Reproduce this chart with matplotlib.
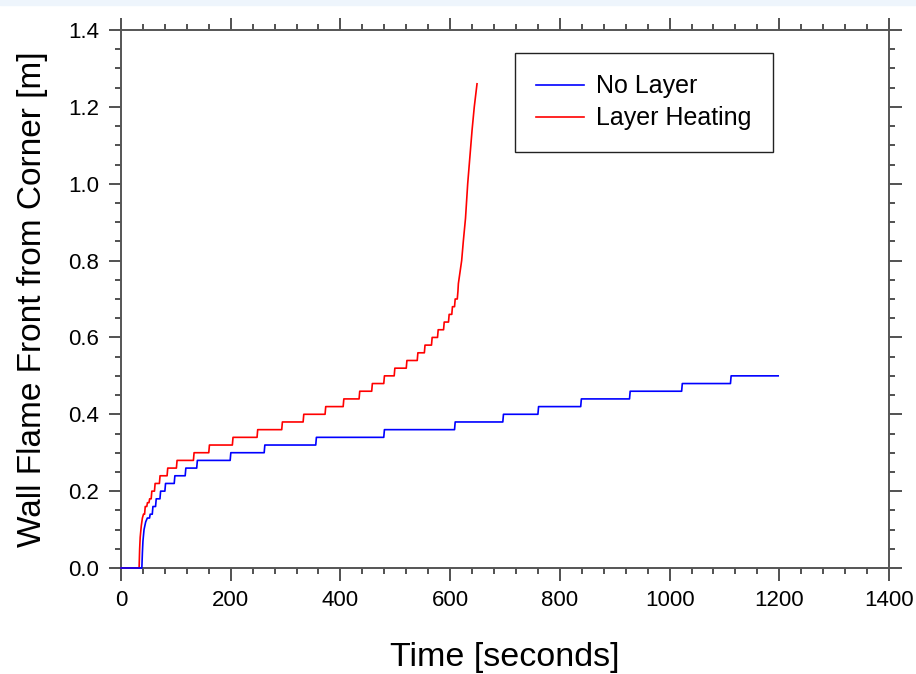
import matplotlib.pyplot as plt
from matplotlib.patches import Rectangle
from matplotlib.ticker import MultipleLocator

plt.rcParams['font.family'] = ['Liberation Sans', 'DejaVu Sans']

# No layer: ignition curve, then flame front steps (time [s], level [m])
head_no_t = [0, 38, 39, 40, 42, 45, 48]
head_no_y = [0.0, 0.0, 0.04, 0.07, 0.10, 0.12, 0.13]
step_no_t = [52, 57, 63, 71, 80, 97, 117, 138, 199, 261, 355, 479, 608,
             696, 760, 838, 927, 1022, 1111]
step_no_y = [0.14, 0.16, 0.18, 0.20, 0.22, 0.24, 0.26, 0.28, 0.30, 0.32,
             0.34, 0.36, 0.38, 0.40, 0.42, 0.44, 0.46, 0.48, 0.50]
end_no_t = 1198

# Layer heating
head_ly_t = [0, 33, 34, 35, 37, 39, 41]
head_ly_y = [0.0, 0.0, 0.05, 0.08, 0.11, 0.13, 0.14]
step_ly_t = [43, 47, 51, 55, 61, 70, 84, 101, 132, 160, 203, 248, 293, 332,
             372, 405, 434, 457, 479, 498, 520, 540, 553, 566, 577, 588, 597,
             603, 608, 613]
step_ly_y = [0.16, 0.17, 0.18, 0.20, 0.22, 0.24, 0.26, 0.28, 0.30, 0.32,
             0.34, 0.36, 0.38, 0.40, 0.42, 0.44, 0.46, 0.48, 0.50, 0.52,
             0.54, 0.56, 0.58, 0.60, 0.62, 0.64, 0.66, 0.68, 0.70, 0.72]
tail_ly_t = [615, 618, 621, 624, 628, 632, 636, 640, 644, 649]
tail_ly_y = [0.74, 0.77, 0.80, 0.85, 0.91, 1.00, 1.07, 1.14, 1.20, 1.26]


def staircase(t0, y0, ts, ys, rise=1.2):
    """Turn step times/levels into polyline vertices with a short rise."""
    xs, vs = list(t0), list(y0)
    prev = vs[-1]
    for t, y in zip(ts, ys):
        xs += [t, t + rise]
        vs += [prev, y]
        prev = y
    return xs, vs


no_x, no_y = staircase(head_no_t, head_no_y, step_no_t, step_no_y)
no_x.append(end_no_t)
no_y.append(no_y[-1])

ly_x, ly_y = staircase(head_ly_t, head_ly_y, step_ly_t, step_ly_y)
ly_x += tail_ly_t
ly_y += tail_ly_y

fig = plt.figure(figsize=(9.16, 6.74), dpi=100)
fig.patches.append(Rectangle((0, 1 - 5 / 674), 1, 5 / 674, transform=fig.transFigure,
                             color='#eef5fc', zorder=0))
ax = fig.add_axes([121 / 916, 106 / 674, 768 / 916, 538 / 674])

ax.plot(no_x, no_y, color='#0000ff', lw=1.2, label='No Layer',
        clip_on=False, zorder=4)
ax.plot(ly_x, ly_y, color='#ff0000', lw=1.2, label='Layer Heating',
        clip_on=False, zorder=3)

ax.set_xlim(0, 1400)
ax.set_ylim(0, 1.4)
ax.xaxis.set_major_locator(MultipleLocator(200))
ax.xaxis.set_minor_locator(MultipleLocator(40))
ax.yaxis.set_major_locator(MultipleLocator(0.2))
ax.yaxis.set_minor_locator(MultipleLocator(0.05))
ax.yaxis.set_major_formatter(plt.FuncFormatter(lambda v, p: f'{v:.1f}'))

ax.tick_params(which='both', direction='out', top=True, right=True,
               color='#333333', width=1.2)
ax.tick_params(which='major', length=9, labelsize=16, pad=7)
ax.tick_params(which='minor', length=4.5)
for sp in ax.spines.values():
    sp.set_color('#555555')
    sp.set_linewidth(1.4)
    sp.set_zorder(2)

ax.set_xlabel('Time [seconds]', fontsize=24.5, labelpad=22)
ax.set_ylabel('Wall Flame Front from Corner [m]', fontsize=24, labelpad=14)

leg = ax.legend(loc='upper left', bbox_to_anchor=(515 / 916, 1 - 53 / 674),
                bbox_transform=fig.transFigure, borderaxespad=0,
                fancybox=False, edgecolor='#222222', fontsize=18,
                handlelength=1.9, handletextpad=0.5, borderpad=0.85,
                labelspacing=0.33)
leg.get_frame().set_linewidth(1.0)
leg.get_frame().set_alpha(1)
leg.set_zorder(5)

fig.savefig('out.png', dpi=100)
